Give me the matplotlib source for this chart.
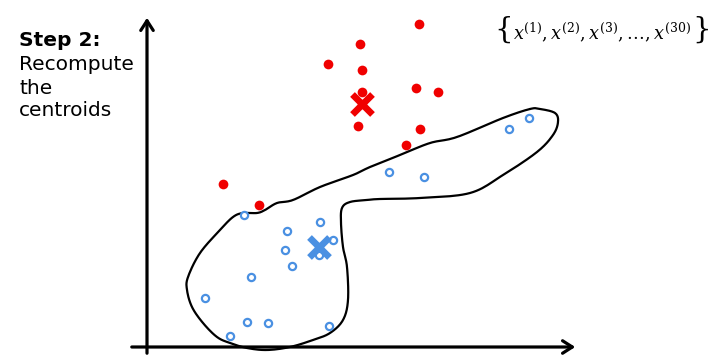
import numpy as np
import matplotlib
matplotlib.use("Agg")
import matplotlib.pyplot as plt

# Data (pixel-space coordinates of the reference canvas)
red_x = [419, 360, 328, 362, 362, 416, 438, 358, 420, 406, 223, 259]
red_y = [24, 44, 64, 70, 92, 88, 92, 126, 129, 145, 184, 205]
blue_x = [244, 320, 287, 333, 285, 319, 292, 251, 205, 247, 268, 329, 230, 389, 424, 509, 529]
blue_y = [215, 222, 231, 240, 250, 255, 266, 277, 298, 322, 323, 326, 336, 172, 177, 129, 118]
red_centroid = (362, 104)
blue_centroid = (319, 247)

# outline of cluster (hand-drawn blob)
blob_x = [530, 503, 457, 430, 400, 370, 353, 320, 293, 277, 265, 257, 243, 233,
          220, 200, 188, 187, 192, 203, 217, 230, 247, 267, 290, 313, 330, 343,
          348, 347, 343, 341, 342, 350, 367, 380, 420, 470, 503, 537, 553, 558, 555, 540]
blob_y = [109, 118, 137, 143, 155, 167, 175, 187, 200, 203, 210, 213, 213, 217,
          230, 253, 277, 290, 307, 323, 337, 343, 348, 350, 347, 340, 333, 320,
          300, 267, 247, 223, 208, 202, 200, 199, 198, 193, 175, 152, 135, 122, 113, 109]

W, H = 712, 355
plt.rcParams["mathtext.fontset"] = "dejavuserif"
fig = plt.figure(figsize=(W / 100, H / 100), dpi=100)
ax = fig.add_axes([0, 0, 1, 1])
ax.set_xlim(0, W)
ax.set_ylim(H, 0)
ax.axis("off")

# Catmull-Rom closed smoothing of blob
P = np.column_stack([blob_x, blob_y]).astype(float)
n = len(P)
pts = []
for i in range(n):
    p0, p1, p2, p3 = P[(i - 1) % n], P[i], P[(i + 1) % n], P[(i + 2) % n]
    for t in np.linspace(0, 1, 12, endpoint=False):
        t2, t3 = t * t, t * t * t
        pts.append(0.5 * ((2 * p1) + (-p0 + p2) * t + (2 * p0 - 5 * p1 + 4 * p2 - p3) * t2
                          + (-p0 + 3 * p1 - 3 * p2 + p3) * t3))
pts.append(pts[0])
pts = np.array(pts)
ax.plot(pts[:, 0], pts[:, 1], color="black", lw=1.6, zorder=2, solid_capstyle="round")

# Axes arrows
ax.annotate("", xy=(147, 15), xytext=(147, 356),
            arrowprops=dict(arrowstyle="->,head_length=0.7,head_width=0.45", lw=2.3, color="black"))
ax.annotate("", xy=(578, 347), xytext=(129, 347),
            arrowprops=dict(arrowstyle="->,head_length=0.7,head_width=0.45", lw=2.3, color="black"))

# points
ax.plot(blue_x, blue_y, "o", ms=5.2, mfc="white", mec="#4a90e2", mew=1.6, zorder=3)
ax.plot(red_x, red_y, "o", ms=7, color="#f00000", mew=0, zorder=3)
ax.plot(*red_centroid, marker="x", ms=15, mew=4.8, color="#f00000", zorder=4)
ax.plot(*blue_centroid, marker="x", ms=15, mew=4.8, color="#4a90e2", zorder=4)

# texts
ax.text(19, 40, "Step 2:", fontsize=14.5, fontweight="bold", va="center", ha="left",
        family="DejaVu Sans")
for i, s in enumerate(["Recompute", "the", "centroids"]):
    ax.text(19, 65 + 23 * i, s, fontsize=14.5, va="center", ha="left", family="DejaVu Sans")
ax.text(602, 32, r"$x^{(1)},x^{(2)},x^{(3)},\ldots,x^{(30)}$",
        fontsize=12.8, ha="center", va="center")
ax.text(494, 30, "{", fontsize=21, family="DejaVu Serif", ha="left", va="center",
        fontweight="light")
ax.text(711, 30, "}", fontsize=21, family="DejaVu Serif", ha="right", va="center",
        fontweight="light")

fig.savefig("out.png", dpi=100)
